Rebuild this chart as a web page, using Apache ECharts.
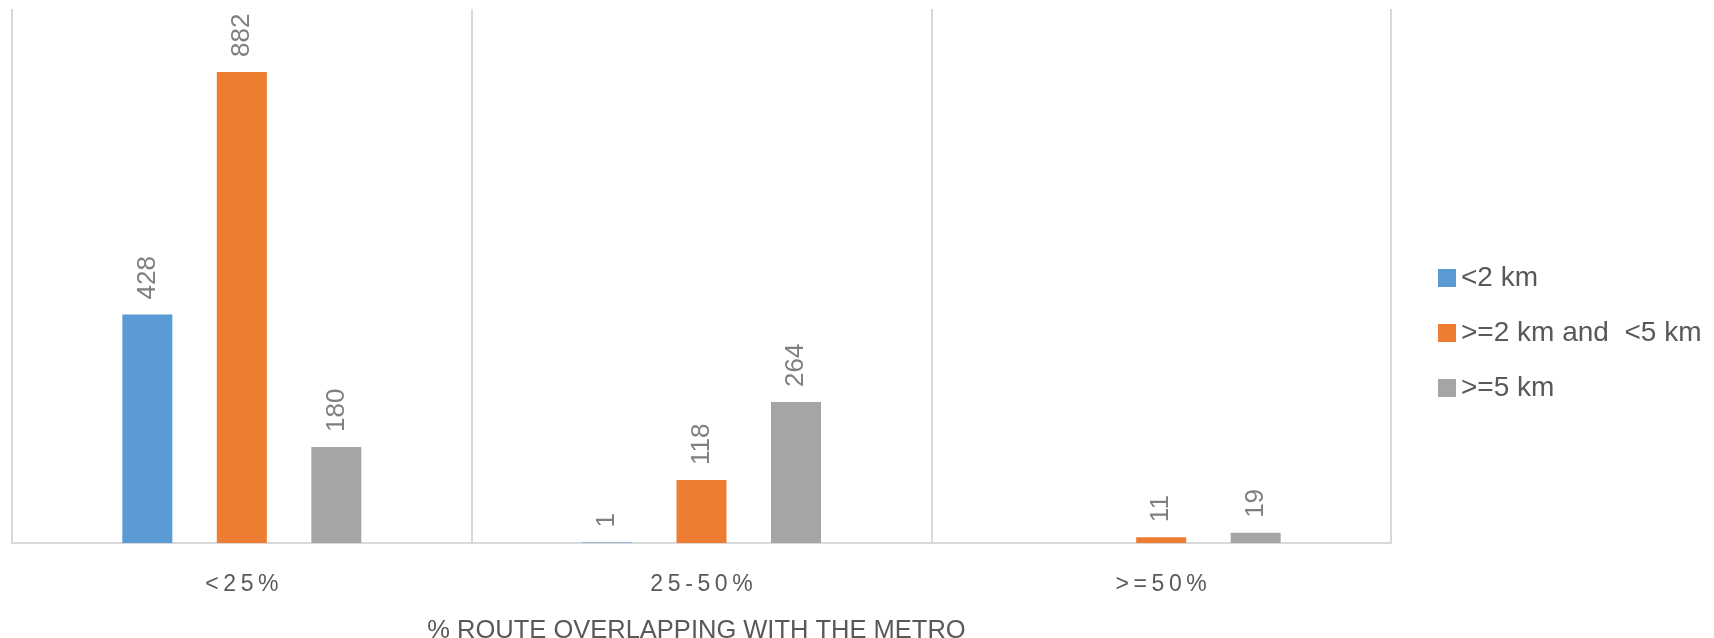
<!DOCTYPE html>
<html>
<head>
<meta charset="utf-8">
<script src="https://cdn.jsdelivr.net/npm/echarts@6/dist/echarts.min.js"></script>
<style>
  html, body { margin: 0; padding: 0; background: #ffffff; }
  #chart { width: 1714px; height: 638px; }
</style>
</head>
<body>
<div id="chart"></div>
<script>
// Share of route overlapping with the metro, by trip distance band
const categories = ['<25%', '25-50%', '>=50%'];
const seriesNames = ['<2 km', '>=2 km and  <5 km', '>=5 km'];
const under2km = [428, 1, null];
const from2to5km = [882, 118, 11];
const over5km = [180, 264, 19];
const axisTitle = '% ROUTE OVERLAPPING WITH THE METRO';

const colors = ['#5b9bd5', '#ed7d31', '#a5a5a5'];
const FONT = '"Liberation Sans", Arial, sans-serif';

function barSeries(name, values, color) {
  return {
    name: name,
    type: 'bar',
    data: values,
    barWidth: 50,
    barGap: '89%',
    itemStyle: { color: color },
    label: {
      show: true,
      position: 'top',
      distance: 15,
      rotate: 90,
      align: 'left',
      verticalAlign: 'middle',
      color: '#7f7f7f',
      fontFamily: FONT,
      fontSize: 26
    }
  };
}

const chart = echarts.init(document.getElementById('chart'), null, { renderer: 'canvas' });
chart.setOption({
  animation: false,
  color: colors,
  grid: { left: 12, right: 323, top: 9, bottom: 95, containLabel: false, outerBoundsMode: 'none' },
  legend: {
    orient: 'vertical',
    left: 1433,
    top: 259,
    itemWidth: 18,
    itemHeight: 18,
    itemGap: 27,
    icon: 'rect',
    data: seriesNames,
    textStyle: { color: '#595959', fontFamily: FONT, fontSize: 28, lineHeight: 28 }
  },
  xAxis: {
    type: 'category',
    data: categories,
    axisLine: { show: true, lineStyle: { color: '#d9d9d9', width: 2 } },
    axisTick: { show: false },
    splitLine: { show: true, lineStyle: { color: '#d9d9d9', width: 2 } },
    axisLabel: {
      margin: 30,
      color: '#595959',
      fontFamily: FONT,
      fontSize: 23,
      // spaced-out category labels
      formatter: function (v) { return v.split('').join('\u2009'); }
    },
    name: axisTitle,
    nameLocation: 'middle',
    nameGap: 75,
    nameTextStyle: { color: '#595959', fontFamily: FONT, fontSize: 25.5, padding: [0, 10, 0, 0] }
  },
  yAxis: {
    type: 'value',
    min: 0,
    max: 1000,
    show: false,
    splitLine: { show: false }
  },
  series: [
    barSeries(seriesNames[0], under2km, colors[0]),
    barSeries(seriesNames[1], from2to5km, colors[1]),
    barSeries(seriesNames[2], over5km, colors[2])
  ]
});
</script>
</body>
</html>
